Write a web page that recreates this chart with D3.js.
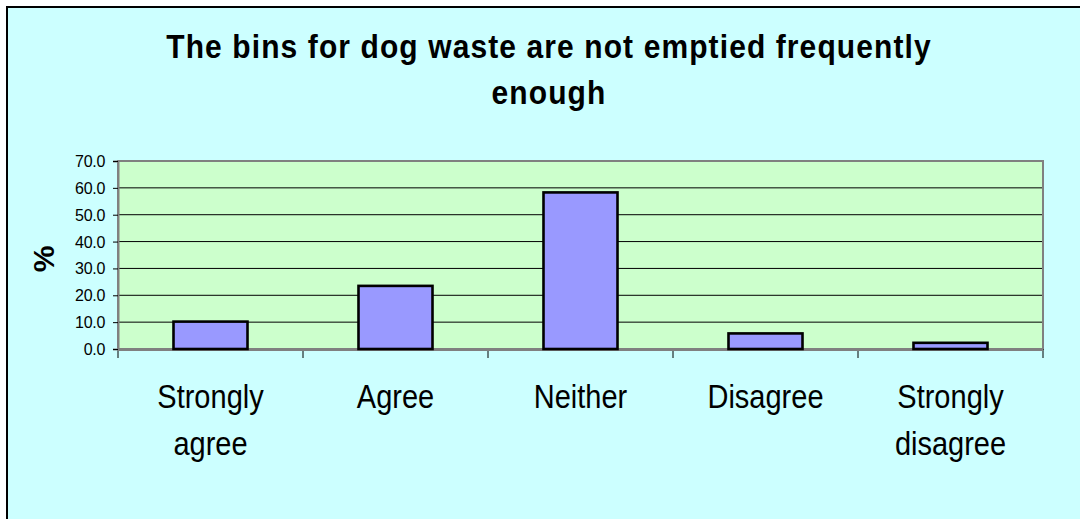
<!DOCTYPE html>
<html>
<head>
<meta charset="utf-8">
<script src="https://cdn.jsdelivr.net/npm/d3@7"></script>
<style>
  body { margin: 0; background: #fff; }
  svg { display: block; font-family: "Liberation Sans", Arial, sans-serif; }
</style>
</head>
<body>
<script>
// data
var categories = ["Strongly agree", "Agree", "Neither", "Disagree", "Strongly disagree"];
var values = [10.2, 23.5, 58.3, 5.8, 2.3];
var yTicks = [0, 10, 20, 30, 40, 50, 60, 70];
var titleLines = ["The bins for dog waste are not emptied frequently", "enough"];

var W = 1080, H = 519;
var plot = {left: 118, right: 1043, top: 161, bottom: 349};

var svg = d3.select("body").append("svg").attr("width", W).attr("height", H);

// chart area
svg.append("rect").attr("x", 7).attr("y", 7).attr("width", W + 10).attr("height", H + 10)
  .style("fill", "#ccffff").style("stroke", "#000").style("stroke-width", 2);

// title (slightly stretched vertically like the original)
svg.selectAll("text.title").data(titleLines).enter().append("text")
  .attr("class", "title")
  .attr("transform", function (d, i) { return "translate(549," + (58 + i * 46) + ") scale(1,1.12)"; })
  .attr("text-anchor", "middle")
  .style("font-size", "30px").style("font-weight", "bold").style("letter-spacing", "1.1px")
  .text(function (d) { return d; });

var x = d3.scaleBand().domain(categories).range([plot.left, plot.right]).paddingInner(0.6).paddingOuter(0.3);
var y = d3.scaleLinear().domain([0, 70]).range([plot.bottom, plot.top]);

// plot background
svg.append("rect").attr("x", plot.left).attr("y", plot.top)
  .attr("width", plot.right - plot.left).attr("height", plot.bottom - plot.top)
  .style("fill", "#ccffcc");

// gridlines
svg.append("g").selectAll("line").data(yTicks.slice(1)).enter().append("line")
  .attr("x1", plot.left).attr("x2", plot.right)
  .attr("y1", function (d) { return y(d); }).attr("y2", function (d) { return y(d); })
  .style("stroke", "#000").style("stroke-width", 1);

// plot border
svg.append("rect").attr("x", plot.left).attr("y", plot.top)
  .attr("width", plot.right - plot.left).attr("height", plot.bottom - plot.top)
  .style("fill", "none").style("stroke", "#808080").style("stroke-width", 2);

// x axis: ticks at band edges
var edges = d3.range(categories.length + 1).map(function (i) { return plot.left + i * (plot.right - plot.left) / categories.length; });
svg.append("g").selectAll("line").data(edges).enter().append("line")
  .attr("x1", function (d) { return d; }).attr("x2", function (d) { return d; })
  .attr("y1", plot.bottom).attr("y2", plot.bottom + 9)
  .style("stroke", "#000").style("stroke-width", 1);
svg.append("line").attr("x1", plot.left).attr("x2", plot.right)
  .attr("y1", plot.bottom + 1).attr("y2", plot.bottom + 1)
  .style("stroke", "#808080").style("stroke-width", 2);

// bars
svg.append("g").selectAll("rect").data(values).enter().append("rect")
  .attr("x", function (d, i) { return x(categories[i]); })
  .attr("width", x.bandwidth())
  .attr("y", function (d) { return y(d); })
  .attr("height", function (d) { return y(0) - y(d); })
  .style("fill", "#9999ff").style("stroke", "#000").style("stroke-width", 2.6);

// y axis
var yAxis = svg.append("g").attr("transform", "translate(" + plot.left + ",0)")
  .call(d3.axisLeft(y).tickValues(yTicks).tickFormat(d3.format(".1f")).tickSize(5).tickPadding(8));
yAxis.select(".domain").style("stroke", "#808080").style("stroke-width", 2);
yAxis.selectAll(".tick line").style("stroke", "#000");
yAxis.selectAll(".tick text").style("font-size", "16px").style("fill", "#000")
  .style("font-family", "'Liberation Sans', Arial, sans-serif").style("letter-spacing", "-0.3px")
  .attr("transform", "scale(1,1.08)");

// category labels
var lab = svg.append("g").selectAll("g").data(categories).enter().append("g")
  .attr("transform", function (d) { return "translate(" + (x(d) + x.bandwidth() / 2) + ",0)"; });
lab.selectAll("text").data(function (d) { return d.split(" "); }).enter().append("text")
  .attr("transform", function (d, i) { return "translate(0," + (408 + i * 47) + ") scale(1,1.15)"; })
  .attr("text-anchor", "middle")
  .style("font-size", "29px")
  .text(function (d) { return d; });

// y axis title
svg.append("text").attr("transform", "translate(54,259) rotate(-90)")
  .attr("text-anchor", "middle")
  .style("font-size", "30px").style("font-weight", "bold")
  .text("%");
</script>
</body>
</html>
